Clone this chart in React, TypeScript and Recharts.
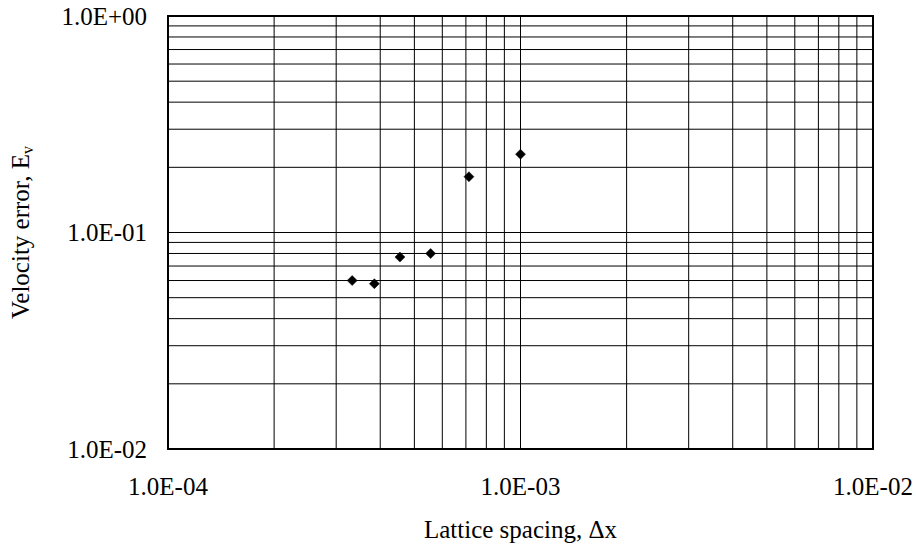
import React from 'react';
import { ScatterChart, Scatter, XAxis, YAxis, CartesianGrid, ReferenceArea, Label } from 'recharts';

// Data
const latticeSpacing = [3.33e-4, 3.85e-4, 4.55e-4, 5.56e-4, 7.14e-4, 1.0e-3];
const velocityError = [0.060, 0.058, 0.077, 0.080, 0.181, 0.230];

// Axis ticks (grid lines at every 1..9 multiple of each decade)
const xTicks = [
  1e-4, 2e-4, 3e-4, 4e-4, 5e-4, 6e-4, 7e-4, 8e-4, 9e-4,
  1e-3, 2e-3, 3e-3, 4e-3, 5e-3, 6e-3, 7e-3, 8e-3, 9e-3,
  1e-2,
];
const yTicks = [
  1e-2, 2e-2, 3e-2, 4e-2, 5e-2, 6e-2, 7e-2, 8e-2, 9e-2,
  1e-1, 2e-1, 3e-1, 4e-1, 5e-1, 6e-1, 7e-1, 8e-1, 9e-1,
  1,
];
const xMajorTicks = [1e-4, 1e-3, 1e-2];
const xMajorLabels = ['1.0E-04', '1.0E-03', '1.0E-02'];
const yMajorTicks = [1e-2, 1e-1, 1];
const yMajorLabels = ['1.0E-02', '1.0E-01', '1.0E+00'];

const xTitle = 'Lattice spacing, \u0394x';
const yTitleMain = 'Velocity error, E';
const yTitleSub = 'v';

const data = latticeSpacing.map((x, i) => ({ x, y: velocityError[i] }));

const FONT = "'Liberation Serif', 'Times New Roman', serif";
const FS = 25;

const fmt = (majors: number[], labels: string[]) => (v: number) => {
  const i = majors.findIndex((m) => Math.abs(v / m - 1) < 1e-6);
  return i >= 0 ? labels[i] : '';
};
const fmtX = fmt(xMajorTicks, xMajorLabels);
const fmtY = fmt(yMajorTicks, yMajorLabels);

const XTick = (p: any) => {
  const label = fmtX(p.payload?.value);
  if (!label) return null;
  return (
    <text x={p.x} y={p.y} dy="0.71em" textAnchor="middle" style={{ fontFamily: FONT, fontSize: FS }} fill="#000">
      {label}
    </text>
  );
};

const YTick = (p: any) => {
  const label = fmtY(p.payload?.value);
  if (!label) return null;
  return (
    <text x={p.x} y={p.y} dy="0.355em" textAnchor="end" style={{ fontFamily: FONT, fontSize: FS }} fill="#000">
      {label}
    </text>
  );
};

const Diamond = (props: any) => {
  const { cx, cy } = props;
  if (cx == null || cy == null) return null;
  const r = 5;
  return (
    <path
      d={`M${cx},${cy - r}L${cx + r},${cy}L${cx},${cy + r}L${cx - r},${cy}Z`}
      fill="#000"
      stroke="#000"
      strokeWidth={0.5}
    />
  );
};

export default function App() {
  return (
    <div style={{ position: 'absolute', left: 0, top: 0, background: '#fff' }}>
      <ScatterChart width={916} height={548} margin={{ top: 16, right: 43, bottom: 39, left: 8 }}>
        <CartesianGrid stroke="#000" strokeWidth={1} />
        <XAxis
          dataKey="x"
          type="number"
          scale="log"
          domain={[1e-4, 1e-2]}
          allowDataOverflow
          ticks={xTicks}
          interval={0}
          tickFormatter={fmtX}
          axisLine={false}
          tickLine={false}
          tickSize={0}
          tickMargin={28}
          height={60}
          tick={<XTick />}
        >
          <Label
            content={(p: any) => {
              const vb = p.viewBox || { x: 168, y: 449, width: 705 };
              return (
                <text
                  x={vb.x + vb.width / 2}
                  y={vb.y + 89}
                  textAnchor="middle"
                  style={{ fontFamily: FONT, fontSize: FS }}
                  fill="#000"
                >
                  {xTitle}
                </text>
              );
            }}
          />
        </XAxis>
        <YAxis
          dataKey="y"
          type="number"
          scale="log"
          domain={[1e-2, 1]}
          allowDataOverflow
          ticks={yTicks}
          interval={0}
          tickFormatter={fmtY}
          axisLine={false}
          tickLine={false}
          tickSize={0}
          tickMargin={21}
          width={160}
          tick={<YTick />}
        >
          <Label
            content={(p: any) => {
              const vb = p.viewBox || { x: 8, y: 16, width: 160, height: 433 };
              const cx = vb.x + 20.5;
              const cy = vb.y + vb.height / 2;
              return (
                <text
                  x={cx}
                  y={cy}
                  transform={`rotate(-90 ${cx} ${cy})`}
                  textAnchor="middle"
                  style={{ fontFamily: FONT, fontSize: FS }}
                  fill="#000"
                >
                  {yTitleMain}
                  <tspan style={{ fontSize: 16 }} dy={4}>{yTitleSub}</tspan>
                </text>
              );
            }}
          />
        </YAxis>
        <ReferenceArea
          x1={1e-4}
          x2={1e-2}
          y1={1e-2}
          y2={1}
          fill="none"
          stroke="#000"
          strokeWidth={2}
          ifOverflow="visible"
        />
        <Scatter data={data} shape={Diamond} isAnimationActive={false} />
      </ScatterChart>
    </div>
  );
}
